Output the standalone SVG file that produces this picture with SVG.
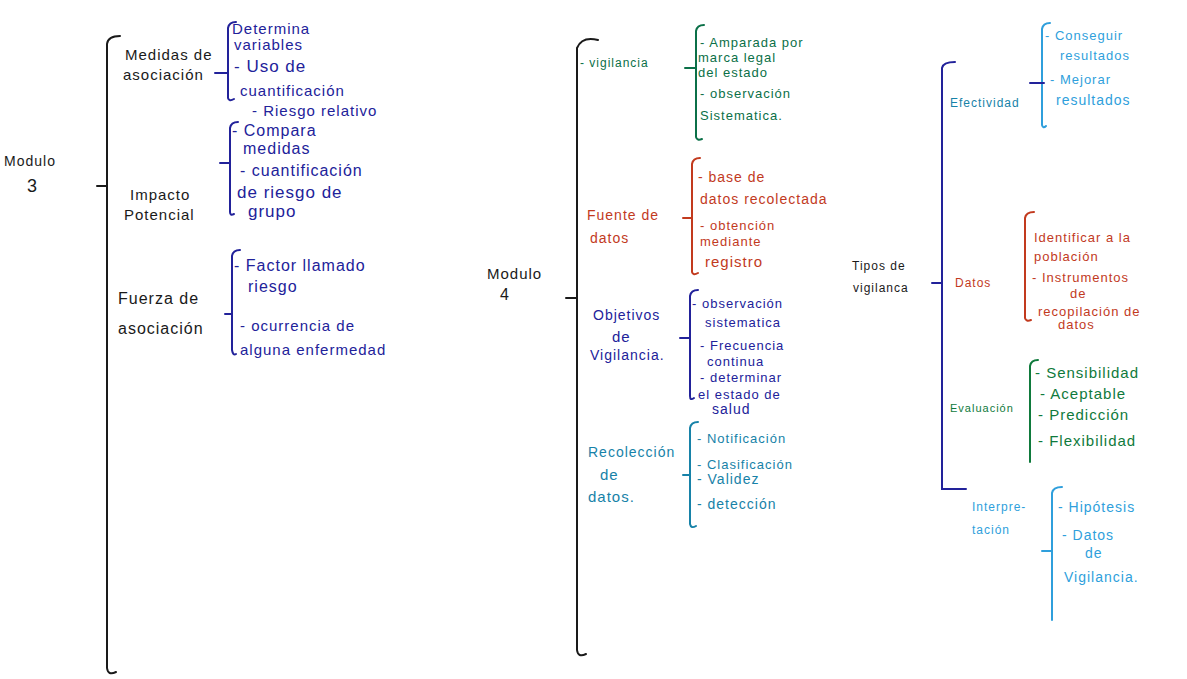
<svg xmlns="http://www.w3.org/2000/svg" width="1187" height="679" viewBox="0 0 1187 679">
<style>
text{font-family:"Liberation Sans","DejaVu Sans",sans-serif;font-size:15px;letter-spacing:1px}
.br{fill:none;stroke-width:2;stroke-linecap:round}
.k{fill:#1a1a1a}.ks{stroke:#1a1a1a}
.n{fill:#22229a}.ns{stroke:#22229a}
.g{fill:#0b7048}.gs{stroke:#0b7048}
.r{fill:#c23a1e}.rs{stroke:#c23a1e}
.t{fill:#1782a8}.ts{stroke:#1782a8}
.b{fill:#2f9fdc}.bs{stroke:#2f9fdc}
.g2{fill:#0f7a3c}.g2s{stroke:#0f7a3c}
</style>
<rect width="1187" height="679" fill="#ffffff"/>

<g id="connectors">
<!-- Modulo 3 -->
<path class="br ks" d="M120 36 Q108 36 107 44 V668 Q108 676 116 672"/>
<line class="br ks" x1="97" y1="186" x2="107" y2="186"/>
<path class="br ns" d="M236 22 Q229 22 228 28 V98 Q229 102 234 99"/>
<line class="br ns" x1="215" y1="73" x2="228" y2="73"/>
<path class="br ns" d="M238 122 Q231 122 230 128 V212 Q230 216 234 214"/>
<line class="br ns" x1="220" y1="163" x2="230" y2="163"/>
<path class="br ns" d="M240 250 Q233 250 232 256 V350 Q233 356 236 354"/>
<line class="br ns" x1="225" y1="314" x2="232" y2="314"/>
<!-- Modulo 4 -->
<path class="br ks" d="M598 40 Q582 36 577 48 V650 Q578 658 586 654"/>
<line class="br ks" x1="566" y1="298" x2="577" y2="298"/>
<path class="br gs" d="M704 25 Q697 25 696 31 V137 Q697 141 702 139"/>
<line class="br gs" x1="685" y1="68" x2="696" y2="68"/>
<path class="br rs" d="M700 158 Q693 158 692 164 V272 Q693 276 698 273"/>
<line class="br rs" x1="683" y1="218" x2="692" y2="218"/>
<path class="br ns" d="M698 290 Q691 290 690 296 V396 Q690 401 694 398"/>
<line class="br ns" x1="680" y1="338" x2="690" y2="338"/>
<path class="br ts" d="M698 422 Q691 422 690 428 V524 Q691 529 696 526"/>
<line class="br ts" x1="683" y1="475" x2="690" y2="475"/>
<!-- Tipos de vigilancia -->
<path class="br ns" d="M955 62 Q943 62 942 68 V489 H966"/>
<line class="br ns" x1="932" y1="283" x2="942" y2="283"/>
<path class="br bs" d="M1050 23 Q1043 23 1042 29 V125 Q1043 129 1046 126"/>
<line class="br ns" x1="1030" y1="83" x2="1044" y2="83"/>
<path class="br rs" d="M1034 212 Q1026 212 1025 218 V318 Q1026 322 1031 320"/>
<path class="br g2s" d="M1038 360 Q1031 360 1030 366 V462"/>
<path class="br bs" d="M1062 487 Q1053 487 1052 493 V620"/>
<line class="br bs" x1="1042" y1="551" x2="1052" y2="551"/>
</g>

<g id="modulo3">
<text class="k" x="4" y="166" style="font-size:14px">Modulo</text>
<text class="k" x="27" y="192" style="font-size:18px">3</text>
</g>
<g id="medidas">
<text class="k" x="125" y="60">Medidas de</text>
<text class="k" x="123" y="80">asociación</text>
<text class="n" x="232" y="34">Determina</text>
<text class="n" x="234" y="50">variables</text>
<text class="n" x="234" y="72" style="font-size:17px">- Uso de</text>
<text class="n" x="240" y="96">cuantificación</text>
<text class="n" x="252" y="116">- Riesgo relativo</text>
</g>
<g id="impacto">
<text class="k" x="130" y="200">Impacto</text>
<text class="k" x="124" y="220">Potencial</text>
<text class="n" x="232" y="136" style="font-size:16px">- Compara</text>
<text class="n" x="243" y="154" style="font-size:16px">medidas</text>
<text class="n" x="240" y="176" style="font-size:16px">- cuantificación</text>
<text class="n" x="237" y="198" style="font-size:17px">de riesgo de</text>
<text class="n" x="248" y="217" style="font-size:17px">grupo</text>
</g>
<g id="fuerza">
<text class="k" x="118" y="304" style="font-size:16px">Fuerza de</text>
<text class="k" x="118" y="334" style="font-size:16px">asociación</text>
<text class="n" x="234" y="271" style="font-size:16px">- Factor llamado</text>
<text class="n" x="248" y="292" style="font-size:16px">riesgo</text>
<text class="n" x="240" y="331">- ocurrencia de</text>
<text class="n" x="240" y="355">alguna enfermedad</text>
</g>

<g id="modulo4">
<text class="k" x="487" y="279" style="font-size:15px">Modulo</text>
<text class="k" x="500" y="300" style="font-size:16px">4</text>
</g>
<g id="vigilancia">
<text class="g" x="580" y="67" style="font-size:12px">- vigilancia</text>
<text class="g" x="700" y="47" style="font-size:13px">- Amparada por</text>
<text class="g" x="698" y="62" style="font-size:13px">marca legal</text>
<text class="g" x="698" y="77" style="font-size:13px">del estado</text>
<text class="g" x="700" y="98" style="font-size:13px">- observación</text>
<text class="g" x="700" y="120" style="font-size:13px">Sistematica.</text>
</g>
<g id="fuente">
<text class="r" x="587" y="220" style="font-size:14px">Fuente de</text>
<text class="r" x="590" y="243" style="font-size:14px">datos</text>
<text class="r" x="698" y="182" style="font-size:14px">- base de</text>
<text class="r" x="700" y="204" style="font-size:14px">datos recolectada</text>
<text class="r" x="700" y="230" style="font-size:13px">- obtención</text>
<text class="r" x="700" y="246" style="font-size:13px">mediante</text>
<text class="r" x="705" y="267" style="font-size:15px">registro</text>
</g>
<g id="objetivos">
<text class="n" x="593" y="320" style="font-size:14px">Objetivos</text>
<text class="n" x="612" y="342" style="font-size:15px">de</text>
<text class="n" x="590" y="360" style="font-size:14px">Vigilancia.</text>
<text class="n" x="692" y="308" style="font-size:13px">- observación</text>
<text class="n" x="705" y="327" style="font-size:13px">sistematica</text>
<text class="n" x="700" y="350" style="font-size:13px">- Frecuencia</text>
<text class="n" x="707" y="366" style="font-size:13px">continua</text>
<text class="n" x="700" y="382" style="font-size:13px">- determinar</text>
<text class="n" x="698" y="399" style="font-size:13px">el estado de</text>
<text class="n" x="712" y="414" style="font-size:14px">salud</text>
</g>
<g id="recoleccion">
<text class="t" x="588" y="457" style="font-size:14px">Recolección</text>
<text class="t" x="600" y="480" style="font-size:15px">de</text>
<text class="t" x="588" y="502" style="font-size:15px">datos.</text>
<text class="t" x="697" y="443" style="font-size:13px">- Notificación</text>
<text class="t" x="697" y="469" style="font-size:13px">- Clasificación</text>
<text class="t" x="697" y="484" style="font-size:14px">- Validez</text>
<text class="t" x="697" y="509" style="font-size:14px">- detección</text>
</g>

<g id="tipos">
<text class="k" x="852" y="270" style="font-size:12px">Tipos de</text>
<text class="k" x="853" y="292" style="font-size:12px">vigilanca</text>
</g>
<g id="efectividad">
<text class="t" x="950" y="107" style="font-size:12px">Efectividad</text>
<text class="b" x="1045" y="40" style="font-size:13px">- Conseguir</text>
<text class="b" x="1060" y="60" style="font-size:13px">resultados</text>
<text class="b" x="1050" y="84" style="font-size:13px">- Mejorar</text>
<text class="b" x="1056" y="105" style="font-size:14px">resultados</text>
</g>
<g id="datos">
<text class="r" x="955" y="287" style="font-size:12px">Datos</text>
<text class="r" x="1034" y="242" style="font-size:13px">Identificar a la</text>
<text class="r" x="1034" y="261" style="font-size:13px">población</text>
<text class="r" x="1032" y="282" style="font-size:13px">- Instrumentos</text>
<text class="r" x="1070" y="298" style="font-size:13px">de</text>
<text class="r" x="1038" y="316" style="font-size:13px">recopilación de</text>
<text class="r" x="1058" y="329" style="font-size:13px">datos</text>
</g>
<g id="evaluacion">
<text class="g2" x="950" y="412" style="font-size:11px">Evaluación</text>
<text class="g2" x="1035" y="378" style="font-size:15px">- Sensibilidad</text>
<text class="g2" x="1040" y="399" style="font-size:15px">- Aceptable</text>
<text class="g2" x="1038" y="420" style="font-size:15px">- Predicción</text>
<text class="g2" x="1038" y="446" style="font-size:15px">- Flexibilidad</text>
</g>
<g id="interpretacion">
<text class="b" x="972" y="511" style="font-size:12px">Interpre-</text>
<text class="b" x="972" y="534" style="font-size:12px">tación</text>
<text class="b" x="1058" y="512" style="font-size:14px">- Hipótesis</text>
<text class="b" x="1062" y="540" style="font-size:14px">- Datos</text>
<text class="b" x="1085" y="558" style="font-size:14px">de</text>
<text class="b" x="1064" y="582" style="font-size:14px">Vigilancia.</text>
</g>
</svg>
